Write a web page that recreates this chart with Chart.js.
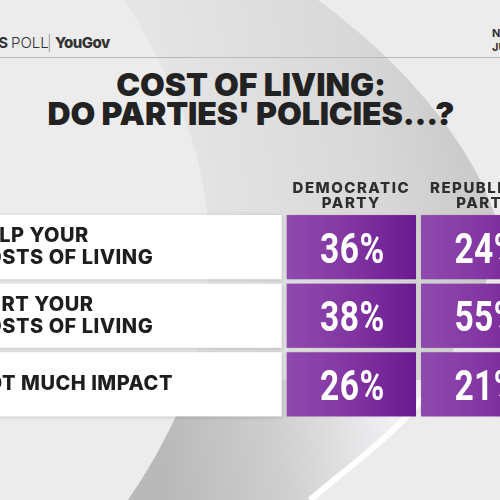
<!DOCTYPE html>
<html lang="en">
<head>
  <meta charset="UTF-8" />
  <title>Cost of living: do parties' policies...?</title>
  <script src="https://cdn.jsdelivr.net/npm/chart.js"></script>
  <style>
    html, body {
      margin: 0;
      padding: 0;
      width: 500px;
      height: 500px;
      overflow: hidden;
      background: #ececec;
      font-family: 'Inter', sans-serif;
    }

    #bg {
      position: absolute;
      left: 0;
      top: 0;
    }

    .brand {
      position: absolute;
      top: 34px;
      font-size: 15px;
      line-height: 18px;
      color: #333;
      white-space: nowrap;
    }

    .date {
      position: absolute;
      left: 492px;
      font-size: 11px;
      font-weight: 700;
      color: #333;
      white-space: nowrap;
    }

    .rule {
      position: absolute;
      left: 0;
      top: 57px;
      width: 500px;
      height: 1px;
      background: #b9b9b9;
    }

    .title {
      position: absolute;
      left: 0;
      top: 70px;
      width: 502px;
      text-align: center;
      font-size: 32px;
      line-height: 29px;
      font-weight: 900;
      letter-spacing: -0.1px;
      color: #222;
    }

    .chart-box {
      position: absolute;
      left: -50px;
      top: 160px;
      width: 620px;
      height: 285px;
    }
  </style>
</head>
<body>
  <svg id="bg" width="500" height="500">
    <defs>
      <linearGradient id="bandTop" gradientUnits="userSpaceOnUse" x1="150" y1="120" x2="450" y2="70">
        <stop offset="0" stop-color="#e6e6e6" />
        <stop offset="0.7" stop-color="#d8d8d8" />
        <stop offset="1" stop-color="#cbcbcb" />
      </linearGradient>
      <linearGradient id="bandLow" gradientUnits="userSpaceOnUse" x1="165" y1="470" x2="395" y2="440">
        <stop offset="0" stop-color="#b9b9b9" />
        <stop offset="0.5" stop-color="#cfcfcf" />
        <stop offset="1" stop-color="#f1eff2" />
      </linearGradient>
    </defs>
    <path d="M125,0 C160,60 200,130 207,215 C212,300 200,370 175,418 C160,450 145,475 128,500 L310,500 C350,465 385,440 405,418 C450,360 500,290 495,215 C470,140 400,60 318,0 Z" fill="url(#bandTop)" />
    <path d="M200,380 C195,395 185,408 175,418 C160,450 145,475 128,500 L310,500 C350,465 385,440 405,418 C420,400 430,390 440,380 Z" fill="url(#bandLow)" />
    <path d="M440,378 C425,395 415,408 405,418 C380,445 345,470 310,500" fill="none" stroke="#ffffff" stroke-width="6" />
  </svg>

  <div class="brand" style="right: 492px; font-weight: 700;">CBS NEWS</div>
  <div class="brand" style="left: 11px; font-weight: 300;">POLL</div>
  <div class="brand" style="left: 47px; font-weight: 300; color: #999;">|</div>
  <div class="brand" style="left: 55px; font-weight: 800; letter-spacing: -0.5px;">YouGov</div>
  <div class="date" style="top: 26px;">NOV</div>
  <div class="date" style="top: 40px;">JUN</div>
  <div class="rule"></div>

  <div class="title">COST OF LIVING:<br />DO PARTIES' POLICIES...?</div>

  <div class="chart-box">
    <canvas id="chart"></canvas>
  </div>

  <script>
    const rowLabels = [
      ['HELP YOUR', 'COSTS OF LIVING'],
      ['HURT YOUR', 'COSTS OF LIVING'],
      ['NOT MUCH IMPACT']
    ];
    const partyLabels = [
      ['DEMOCRATIC', 'PARTY'],
      ['REPUBLICAN', 'PARTY']
    ];
    const democratic = [36, 38, 26];
    const republican = [24, 55, 21];

    const GAP_X = 5;
    const GAP_Y = 4.4;

    // white label strips behind the y ticks, purple tiles with the numbers on top
    const tilePlugin = {
      id: 'tiles',
      beforeDraw(chart) {
        const { ctx, chartArea, scales: { y } } = chart;
        const rowH = Math.abs(y.getPixelForValue(1) - y.getPixelForValue(0));
        ctx.letterSpacing = '0.5px'; // for the row labels drawn next
        ctx.save();
        ctx.fillStyle = '#ffffff';
        ctx.shadowColor = 'rgba(0,0,0,0.18)';
        ctx.shadowBlur = 4;
        ctx.shadowOffsetY = 1;
        rowLabels.forEach((_, i) => {
          const cy = y.getPixelForValue(i);
          ctx.fillRect(0, cy - rowH / 2 + GAP_Y / 2, chartArea.left - GAP_X / 2, rowH - GAP_Y);
        });
        ctx.restore();
      },
      afterDatasetsDraw(chart) {
        const { ctx, scales: { x, y } } = chart;
        const colW = Math.abs(x.getPixelForValue(1) - x.getPixelForValue(0));
        const rowH = Math.abs(y.getPixelForValue(1) - y.getPixelForValue(0));
        chart.data.datasets.forEach((ds, di) => {
          chart.getDatasetMeta(di).data.forEach((pt, i) => {
            const l = pt.x - colW / 2 + GAP_X / 2;
            const t = pt.y - rowH / 2 + GAP_Y / 2;
            const w = colW - GAP_X;
            const h = rowH - GAP_Y;
            const grad = ctx.createLinearGradient(l, 0, l + w, 0);
            grad.addColorStop(0, '#8f4aae');
            grad.addColorStop(0.5, '#8235a2');
            grad.addColorStop(1, '#6a198f');
            ctx.save();
            ctx.shadowColor = 'rgba(0,0,0,0.15)';
            ctx.shadowBlur = 3;
            ctx.fillStyle = grad;
            ctx.fillRect(l, t, w, h);
            ctx.restore();

            ctx.save();
            ctx.letterSpacing = '0.5px';
            ctx.fillStyle = '#ffffff';
            ctx.font = 'bold 43px Roboto';
            ctx.textAlign = 'center';
            ctx.textBaseline = 'alphabetic';
            ctx.translate(pt.x + 1, pt.y + 15.5);
            ctx.scale(0.78, 1);
            ctx.fillText(ds.values[i] + '%', 0, 0);
            ctx.restore();
          });
        });
        ctx.letterSpacing = '1.5px'; // party headers are drawn after this (ticks.z = 1)
      },
      afterDraw(chart) {
        chart.ctx.letterSpacing = '0px';
      }
    };

    // category scales take the index of the label, so each tile sits at (column, row)
    const toPoints = (vals, col) => vals.map((v, i) => ({ x: col, y: i }));

    new Chart(document.getElementById('chart'), {
      type: 'scatter',
      data: {
        datasets: [
          { label: 'Democratic Party', values: democratic, data: toPoints(democratic, 0), parsing: false, pointRadius: 0, showLine: false },
          { label: 'Republican Party', values: republican, data: toPoints(republican, 1), parsing: false, pointRadius: 0, showLine: false }
        ]
      },
      options: {
        responsive: true,
        maintainAspectRatio: false,
        animation: false,
        layout: { padding: { left: 21, right: 17.2, top: 0, bottom: 26.35 } },
        plugins: {
          legend: { display: false },
          tooltip: { enabled: false }
        },
        scales: {
          x: {
            type: 'category',
            position: 'top',
            labels: partyLabels,
            offset: true,
            grid: { display: false, drawTicks: false },
            border: { display: false },
            ticks: {
              z: 1,
              color: '#2e2e2e',
              padding: 2,
              font: { family: 'Inter', weight: '800', size: 15, lineHeight: 0.98 }
            },
            afterFit: (scale) => { scale.height = 52.85; }
          },
          y: {
            type: 'category',
            labels: rowLabels,
            offset: true,
            grid: { display: false, drawTicks: false },
            border: { display: false },
            ticks: {
              color: '#1e1e1e',
              crossAlign: 'far',
              font: { family: 'Inter', weight: '800', size: 20, lineHeight: 1.1 }
            },
            afterFit: (scale) => { scale.width = 313.2; }
          }
        }
      },
      plugins: [tilePlugin]
    });
  </script>
</body>
</html>
